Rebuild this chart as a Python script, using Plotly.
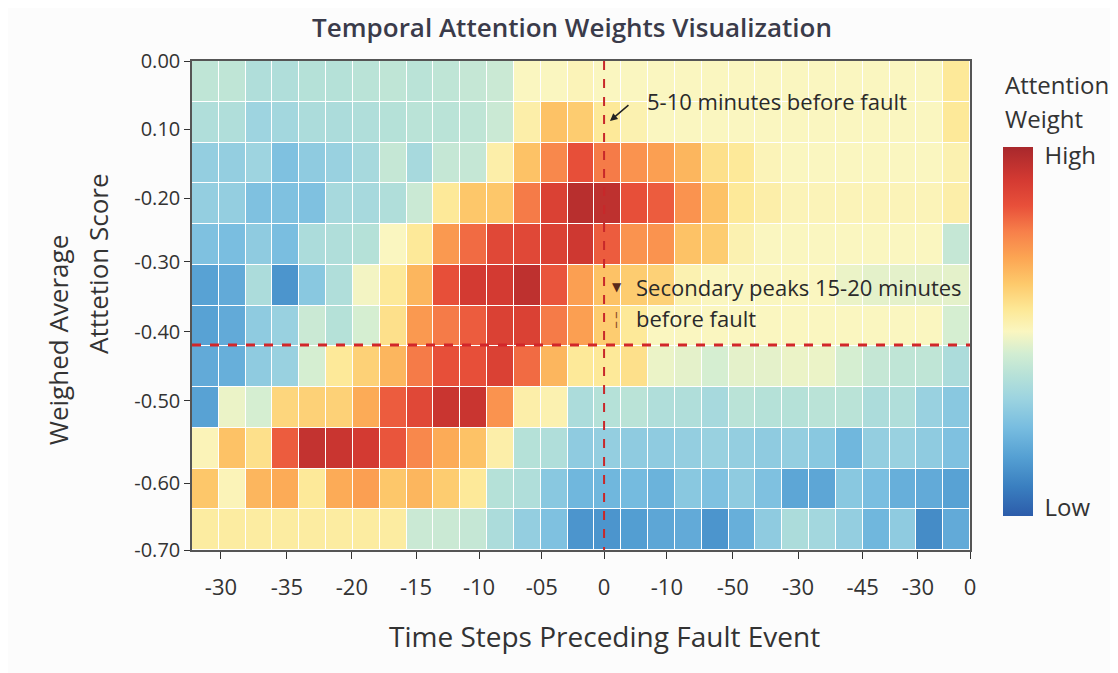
import plotly.graph_objects as go

# ---------------- data ----------------
x_tick_labels = ["-30", "-35", "-20", "-15", "-10", "-05", "0", "-10", "-50", "-30", "-45", "-30", "0"]
y_tick_labels = ["0.00", "0.10", "-0.20", "-0.30", "-0.40", "-0.50", "-0.60", "-0.70"]
colorbar_labels = ["High", "Low"]

row00 = [0.46,0.46,0.43,0.43,0.44,0.44,0.45,0.46,0.45,0.46,0.47,0.48,0.55,0.55,0.56,0.55,0.55,0.55,0.55,0.55,0.55,0.55,0.55,0.55,0.55,0.55,0.55,0.55,0.60]
row01 = [0.43,0.43,0.39,0.40,0.42,0.42,0.43,0.44,0.45,0.45,0.46,0.48,0.58,0.68,0.66,0.60,0.57,0.55,0.55,0.55,0.55,0.55,0.55,0.55,0.55,0.55,0.55,0.55,0.60]
row02 = [0.37,0.37,0.39,0.33,0.36,0.38,0.41,0.47,0.41,0.47,0.47,0.58,0.68,0.78,0.86,0.80,0.76,0.74,0.70,0.62,0.60,0.56,0.55,0.55,0.55,0.55,0.55,0.55,0.57]
row03 = [0.37,0.37,0.33,0.33,0.33,0.41,0.41,0.43,0.48,0.60,0.67,0.67,0.80,0.90,0.97,0.96,0.86,0.84,0.76,0.68,0.60,0.58,0.56,0.56,0.56,0.56,0.56,0.56,0.58]
row04 = [0.33,0.32,0.36,0.32,0.42,0.43,0.44,0.55,0.60,0.75,0.82,0.88,0.88,0.90,0.93,0.84,0.76,0.76,0.68,0.66,0.57,0.55,0.55,0.55,0.55,0.55,0.55,0.55,0.47]
row05 = [0.25,0.27,0.42,0.22,0.35,0.43,0.54,0.60,0.70,0.86,0.92,0.92,0.96,0.85,0.74,0.68,0.66,0.65,0.57,0.55,0.55,0.55,0.55,0.55,0.53,0.52,0.52,0.52,0.52]
row06 = [0.25,0.27,0.36,0.38,0.48,0.44,0.50,0.62,0.75,0.80,0.84,0.90,0.90,0.80,0.74,0.66,0.60,0.55,0.55,0.55,0.55,0.55,0.55,0.55,0.55,0.55,0.55,0.55,0.50]
row07 = [0.27,0.28,0.36,0.38,0.50,0.60,0.65,0.70,0.80,0.86,0.86,0.90,0.82,0.70,0.60,0.60,0.62,0.53,0.52,0.50,0.52,0.52,0.53,0.53,0.50,0.47,0.46,0.46,0.42]
row08 = [0.25,0.53,0.50,0.64,0.65,0.65,0.72,0.84,0.88,0.94,0.94,0.76,0.58,0.57,0.42,0.44,0.45,0.43,0.43,0.41,0.45,0.44,0.44,0.45,0.45,0.42,0.43,0.38,0.35]
row09 = [0.56,0.68,0.62,0.84,0.95,0.94,0.92,0.85,0.78,0.72,0.68,0.58,0.44,0.43,0.36,0.37,0.36,0.36,0.37,0.38,0.37,0.36,0.37,0.35,0.30,0.37,0.38,0.36,0.33]
row10 = [0.67,0.56,0.70,0.72,0.60,0.72,0.74,0.67,0.70,0.66,0.60,0.44,0.43,0.35,0.30,0.30,0.31,0.29,0.35,0.33,0.36,0.33,0.26,0.26,0.35,0.32,0.28,0.27,0.25]
row11 = [0.59,0.59,0.59,0.59,0.59,0.59,0.59,0.59,0.48,0.48,0.47,0.42,0.37,0.33,0.22,0.22,0.24,0.26,0.27,0.22,0.28,0.36,0.42,0.40,0.37,0.30,0.36,0.20,0.27]

z = [row00, row01, row02, row03, row04, row05, row06, row07, row08, row09, row10, row11]
n_rows = len(z)
n_cols = len(z[0])

# ---------------- layout constants ----------------
x_tick_pos = [1.08, 3.54, 5.96, 8.35, 10.7, 13.04, 15.36, 17.7, 20.16, 22.59, 25.0, 27.06, 29.0]
y_tick_pos = [0.0, 1.67, 3.37, 4.93, 6.65, 8.34, 10.36, 12.0]
FAULT_X = 15.36
THRESH_Y = 6.97

colorscale = [
    [0.00, "#2c5caa"], [0.08, "#3a7fc0"], [0.16, "#55a0d3"], [0.24, "#78bde0"],
    [0.32, "#9dd4e0"], [0.38, "#b6e1d8"], [0.44, "#d2edd2"], [0.50, "#faf6c0"],
    [0.56, "#fde896"], [0.63, "#fdc96b"], [0.70, "#fca553"], [0.77, "#f7804a"],
    [0.84, "#e8503a"], [0.91, "#d43a32"], [1.00, "#a8282c"],
]

FONT = "Open Sans"
TXT = "#333333"

fig = go.Figure()
fig.add_trace(go.Heatmap(
    z=z,
    x=[i + 0.5 for i in range(n_cols)],
    y=[j + 0.5 for j in range(n_rows)],
    colorscale=colorscale,
    zmin=0.1, zmax=1.0,
    xgap=1, ygap=1,
    hoverinfo="skip",
    colorbar=dict(
        x=1.0424, xanchor="left", xpad=0,
        y=0.4468, yanchor="middle", len=0.795, lenmode="fraction",
        thickness=30, outlinewidth=0,
        tickvals=[0.98, 0.12], ticktext=[" " + t for t in colorbar_labels],
        ticks="", ticklen=0,
        tickfont=dict(family=FONT, size=24, color=TXT),
    ),
))

# reference lines
fig.add_shape(type="line", x0=FAULT_X, x1=FAULT_X, y0=0, y1=n_rows, xref="x", yref="y",
              line=dict(color="#c8282a", width=2, dash="dash"))
fig.add_shape(type="line", x0=0, x1=n_cols, y0=THRESH_Y, y1=THRESH_Y, xref="x", yref="y",
              line=dict(color="#d2262a", width=3, dash="dash"))

ANN_FONT = dict(family=FONT, size=22, color="#2a2a2a")
ann = []
ann.append(dict(x=15.58, y=1.47, xref="x", yref="y", text="", showarrow=True,
                ax=20, ay=-17, arrowhead=2, arrowsize=1, arrowwidth=1.5, arrowcolor="#222"))
ann.append(dict(x=16.88, y=0.98, xref="x", yref="y", text="5-10 minutes before fault",
                showarrow=False, xanchor="left", yanchor="middle", font=ANN_FONT))
ann.append(dict(x=16.47, y=5.55, xref="x", yref="y", text="Secondary peaks 15-20 minutes",
                showarrow=False, xanchor="left", yanchor="middle", font=ANN_FONT))
ann.append(dict(x=16.47, y=6.31, xref="x", yref="y", text="before fault",
                showarrow=False, xanchor="left", yanchor="middle", font=ANN_FONT))
ann.append(dict(x=15.84, y=5.55, xref="x", yref="y", text="▼",
                showarrow=False, xanchor="center", yanchor="middle",
                font=dict(family="DejaVu Sans", size=12, color="#5a2a1a")))
ann.append(dict(x=15.84, y=6.31, xref="x", yref="y", text="¦",
                showarrow=False, xanchor="center", yanchor="middle",
                font=dict(family=FONT, size=16, color="#8a4a2a")))
ann.append(dict(x=0.5296, y=-0.176, xref="paper", yref="paper", text="Time Steps Preceding Fault Event",
                showarrow=False, xanchor="center", yanchor="middle",
                font=dict(family=FONT, size=28, color=TXT)))
ann.append(dict(x=-0.1722, y=0.4294, xref="paper", yref="paper", text="Weighed Average",
                showarrow=False, xanchor="center", yanchor="middle", textangle=-90,
                font=dict(family=FONT, size=26, color=TXT)))
ann.append(dict(x=-0.1208, y=0.5849, xref="paper", yref="paper", text="Atttetion Score",
                showarrow=False, xanchor="center", yanchor="middle", textangle=-90,
                font=dict(family=FONT, size=26, color=TXT)))
ann.append(dict(x=1.0424, y=0.951, xref="paper", yref="paper", text="Attention",
                showarrow=False, xanchor="left", yanchor="middle",
                font=dict(family=FONT, size=24, color=TXT)))
ann.append(dict(x=1.0424, y=0.8814, xref="paper", yref="paper", text="Weight",
                showarrow=False, xanchor="left", yanchor="middle",
                font=dict(family=FONT, size=24, color=TXT)))

fig.update_layout(
    width=1118, height=673,
    margin=dict(l=184, r=156, t=53, b=131),
    paper_bgcolor="#fcfcfc",
    plot_bgcolor="#ffffff",
    title=dict(text="Temporal Attention Weights Visualization", x=0.5045, xanchor="center",
               y=0.971, yanchor="middle", yref="container",
               font=dict(family=FONT, size=26, color="#3a3b4a", weight=600)),
    annotations=ann,
    showlegend=False,
)
fig.update_xaxes(range=[0, n_cols], tickvals=x_tick_pos, ticktext=x_tick_labels,
                 showgrid=False, zeroline=False, showline=True, linecolor="#555", linewidth=1.5,
                 mirror=True, ticks="outside", ticklen=7, tickcolor="#333",
                 ticklabelstandoff=10,
                 tickfont=dict(family=FONT, size=22, color=TXT))
fig.update_yaxes(range=[n_rows, 0], tickvals=y_tick_pos, ticktext=y_tick_labels,
                 showgrid=False, zeroline=False, showline=True, linecolor="#555", linewidth=1.5,
                 mirror=True, ticks="outside", ticklen=6, tickcolor="#333",
                 tickfont=dict(family=FONT, size=20, color=TXT))

fig.write_html("out.html")
